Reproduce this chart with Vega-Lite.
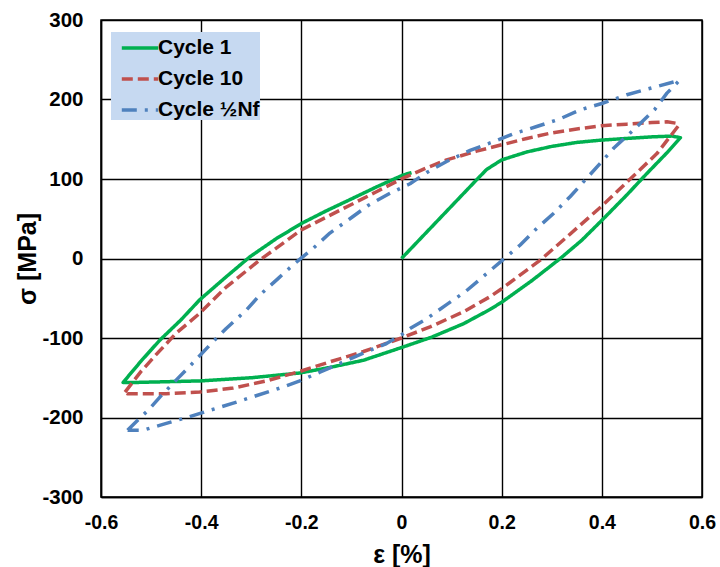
{
  "$schema": "https://vega.github.io/schema/vega-lite/v6.json",
  "width": 601,
  "height": 477,
  "autosize": {"type": "none"},
  "padding": {"left": 101, "top": 20, "right": 18, "bottom": 70},
  "background": "white",
  "config": {
    "font": "Liberation Sans",
    "view": {"stroke": "black", "strokeWidth": 1.5},
    "axis": {
      "grid": true, "gridColor": "black", "gridOpacity": 1, "gridWidth": 1.4,
      "domainColor": "black", "domainWidth": 1.5, "ticks": false, "labelFlush": false,
      "labelFont": "Liberation Sans", "labelFontWeight": "bold", "labelFontSize": 19.5, "labelColor": "black",
      "titleFont": "Liberation Sans", "titleFontWeight": "bold", "titleFontSize": 25, "titleColor": "black"
    },
    "legend": {
      "fillColor": "#C6D9F1", "padding": 0, "symbolType": "M-1.3,0H1.3", "symbolSize": 784,
      "symbolStrokeWidth": 3.5, "labelFont": "Liberation Sans", "labelFontSize": 21, "labelFontWeight": "bold",
      "labelColor": "black", "labelOffset": 2, "rowPadding": 5, "symbolOffset": 13, "labelLimit": 300
    }
  },
  "data": {"values": [
    {"c":"Cycle 1","i":0,"e":0,"s":0},
    {"c":"Cycle 1","i":1,"e":0.05,"s":33},
    {"c":"Cycle 1","i":2,"e":0.1,"s":66},
    {"c":"Cycle 1","i":3,"e":0.15,"s":99},
    {"c":"Cycle 1","i":4,"e":0.17,"s":112},
    {"c":"Cycle 1","i":5,"e":0.2,"s":124},
    {"c":"Cycle 1","i":6,"e":0.25,"s":134},
    {"c":"Cycle 1","i":7,"e":0.3,"s":141},
    {"c":"Cycle 1","i":8,"e":0.35,"s":146},
    {"c":"Cycle 1","i":9,"e":0.4,"s":149},
    {"c":"Cycle 1","i":10,"e":0.45,"s":151},
    {"c":"Cycle 1","i":11,"e":0.5,"s":153},
    {"c":"Cycle 1","i":12,"e":0.54,"s":154},
    {"c":"Cycle 1","i":13,"e":0.557,"s":152},
    {"c":"Cycle 1","i":14,"e":0.53,"s":133},
    {"c":"Cycle 1","i":15,"e":0.49,"s":107},
    {"c":"Cycle 1","i":16,"e":0.45,"s":80},
    {"c":"Cycle 1","i":17,"e":0.4,"s":48},
    {"c":"Cycle 1","i":18,"e":0.36,"s":23},
    {"c":"Cycle 1","i":19,"e":0.317,"s":0},
    {"c":"Cycle 1","i":20,"e":0.26,"s":-28},
    {"c":"Cycle 1","i":21,"e":0.2,"s":-55},
    {"c":"Cycle 1","i":22,"e":0.177,"s":-64},
    {"c":"Cycle 1","i":23,"e":0.124,"s":-82},
    {"c":"Cycle 1","i":24,"e":0.06,"s":-99},
    {"c":"Cycle 1","i":25,"e":0,"s":-112},
    {"c":"Cycle 1","i":26,"e":-0.076,"s":-128},
    {"c":"Cycle 1","i":27,"e":-0.143,"s":-137},
    {"c":"Cycle 1","i":28,"e":-0.203,"s":-144},
    {"c":"Cycle 1","i":29,"e":-0.3,"s":-150},
    {"c":"Cycle 1","i":30,"e":-0.403,"s":-154},
    {"c":"Cycle 1","i":31,"e":-0.47,"s":-155},
    {"c":"Cycle 1","i":32,"e":-0.536,"s":-156},
    {"c":"Cycle 1","i":33,"e":-0.556,"s":-156},
    {"c":"Cycle 1","i":34,"e":-0.52,"s":-129},
    {"c":"Cycle 1","i":35,"e":-0.483,"s":-103},
    {"c":"Cycle 1","i":36,"e":-0.44,"s":-77},
    {"c":"Cycle 1","i":37,"e":-0.403,"s":-52},
    {"c":"Cycle 1","i":38,"e":-0.35,"s":-23},
    {"c":"Cycle 1","i":39,"e":-0.303,"s":2},
    {"c":"Cycle 1","i":40,"e":-0.25,"s":25},
    {"c":"Cycle 1","i":41,"e":-0.2,"s":44},
    {"c":"Cycle 1","i":42,"e":-0.15,"s":60},
    {"c":"Cycle 1","i":43,"e":-0.103,"s":74},
    {"c":"Cycle 1","i":44,"e":-0.05,"s":90},
    {"c":"Cycle 1","i":45,"e":0.003,"s":105},
    {"c":"Cycle 1","i":46,"e":0.02,"s":108},

    {"c":"Cycle 10","i":0,"e":-0.552,"s":-168},
    {"c":"Cycle 10","i":1,"e":-0.52,"s":-142},
    {"c":"Cycle 10","i":2,"e":-0.49,"s":-121},
    {"c":"Cycle 10","i":3,"e":-0.45,"s":-94},
    {"c":"Cycle 10","i":4,"e":-0.403,"s":-69},
    {"c":"Cycle 10","i":5,"e":-0.35,"s":-36},
    {"c":"Cycle 10","i":6,"e":-0.283,"s":-2},
    {"c":"Cycle 10","i":7,"e":-0.25,"s":13},
    {"c":"Cycle 10","i":8,"e":-0.2,"s":36},
    {"c":"Cycle 10","i":9,"e":-0.15,"s":52},
    {"c":"Cycle 10","i":10,"e":-0.103,"s":67},
    {"c":"Cycle 10","i":11,"e":-0.05,"s":84},
    {"c":"Cycle 10","i":12,"e":0.003,"s":101},
    {"c":"Cycle 10","i":13,"e":0.05,"s":114},
    {"c":"Cycle 10","i":14,"e":0.09,"s":124},
    {"c":"Cycle 10","i":15,"e":0.15,"s":135},
    {"c":"Cycle 10","i":16,"e":0.2,"s":143},
    {"c":"Cycle 10","i":17,"e":0.25,"s":151},
    {"c":"Cycle 10","i":18,"e":0.3,"s":158},
    {"c":"Cycle 10","i":19,"e":0.35,"s":163},
    {"c":"Cycle 10","i":20,"e":0.4,"s":167},
    {"c":"Cycle 10","i":21,"e":0.45,"s":169},
    {"c":"Cycle 10","i":22,"e":0.5,"s":171},
    {"c":"Cycle 10","i":23,"e":0.53,"s":172},
    {"c":"Cycle 10","i":24,"e":0.55,"s":170},
    {"c":"Cycle 10","i":25,"e":0.553,"s":167},
    {"c":"Cycle 10","i":26,"e":0.51,"s":132},
    {"c":"Cycle 10","i":27,"e":0.455,"s":99},
    {"c":"Cycle 10","i":28,"e":0.4,"s":66},
    {"c":"Cycle 10","i":29,"e":0.33,"s":27},
    {"c":"Cycle 10","i":30,"e":0.277,"s":-2},
    {"c":"Cycle 10","i":31,"e":0.2,"s":-38},
    {"c":"Cycle 10","i":32,"e":0.177,"s":-48},
    {"c":"Cycle 10","i":33,"e":0.124,"s":-67},
    {"c":"Cycle 10","i":34,"e":0.057,"s":-86},
    {"c":"Cycle 10","i":35,"e":0,"s":-100},
    {"c":"Cycle 10","i":36,"e":-0.076,"s":-117},
    {"c":"Cycle 10","i":37,"e":-0.143,"s":-130},
    {"c":"Cycle 10","i":38,"e":-0.203,"s":-142},
    {"c":"Cycle 10","i":39,"e":-0.27,"s":-154},
    {"c":"Cycle 10","i":40,"e":-0.336,"s":-163},
    {"c":"Cycle 10","i":41,"e":-0.403,"s":-168},
    {"c":"Cycle 10","i":42,"e":-0.47,"s":-170},
    {"c":"Cycle 10","i":43,"e":-0.547,"s":-170},
    {"c":"Cycle 10","i":44,"e":-0.552,"s":-168},

    {"c":"Cycle ½Nf","i":0,"e":-0.547,"s":-216},
    {"c":"Cycle ½Nf","i":1,"e":-0.523,"s":-201},
    {"c":"Cycle ½Nf","i":2,"e":-0.506,"s":-191},
    {"c":"Cycle ½Nf","i":3,"e":-0.482,"s":-174},
    {"c":"Cycle ½Nf","i":4,"e":-0.45,"s":-153},
    {"c":"Cycle ½Nf","i":5,"e":-0.416,"s":-131},
    {"c":"Cycle ½Nf","i":6,"e":-0.383,"s":-109},
    {"c":"Cycle ½Nf","i":7,"e":-0.35,"s":-88},
    {"c":"Cycle ½Nf","i":8,"e":-0.31,"s":-65},
    {"c":"Cycle ½Nf","i":9,"e":-0.283,"s":-46},
    {"c":"Cycle ½Nf","i":10,"e":-0.246,"s":-25},
    {"c":"Cycle ½Nf","i":11,"e":-0.213,"s":-6},
    {"c":"Cycle ½Nf","i":12,"e":-0.176,"s":13},
    {"c":"Cycle ½Nf","i":13,"e":-0.143,"s":32},
    {"c":"Cycle ½Nf","i":14,"e":-0.103,"s":50},
    {"c":"Cycle ½Nf","i":15,"e":-0.066,"s":67},
    {"c":"Cycle ½Nf","i":16,"e":-0.023,"s":82},
    {"c":"Cycle ½Nf","i":17,"e":0.017,"s":94},
    {"c":"Cycle ½Nf","i":18,"e":0.05,"s":108},
    {"c":"Cycle ½Nf","i":19,"e":0.09,"s":122},
    {"c":"Cycle ½Nf","i":20,"e":0.137,"s":136},
    {"c":"Cycle ½Nf","i":21,"e":0.184,"s":147},
    {"c":"Cycle ½Nf","i":22,"e":0.224,"s":157},
    {"c":"Cycle ½Nf","i":23,"e":0.27,"s":166},
    {"c":"Cycle ½Nf","i":24,"e":0.314,"s":175},
    {"c":"Cycle ½Nf","i":25,"e":0.357,"s":187},
    {"c":"Cycle ½Nf","i":26,"e":0.4,"s":195},
    {"c":"Cycle ½Nf","i":27,"e":0.45,"s":206},
    {"c":"Cycle ½Nf","i":28,"e":0.49,"s":213},
    {"c":"Cycle ½Nf","i":29,"e":0.543,"s":222},
    {"c":"Cycle ½Nf","i":30,"e":0.555,"s":224},
    {"c":"Cycle ½Nf","i":31,"e":0.53,"s":208},
    {"c":"Cycle ½Nf","i":32,"e":0.505,"s":187},
    {"c":"Cycle ½Nf","i":33,"e":0.467,"s":164},
    {"c":"Cycle ½Nf","i":34,"e":0.424,"s":139},
    {"c":"Cycle ½Nf","i":35,"e":0.4,"s":122},
    {"c":"Cycle ½Nf","i":36,"e":0.37,"s":101},
    {"c":"Cycle ½Nf","i":37,"e":0.337,"s":78},
    {"c":"Cycle ½Nf","i":38,"e":0.304,"s":57},
    {"c":"Cycle ½Nf","i":39,"e":0.267,"s":36},
    {"c":"Cycle ½Nf","i":40,"e":0.237,"s":17},
    {"c":"Cycle ½Nf","i":41,"e":0.2,"s":-3},
    {"c":"Cycle ½Nf","i":42,"e":0.17,"s":-19},
    {"c":"Cycle ½Nf","i":43,"e":0.127,"s":-42},
    {"c":"Cycle ½Nf","i":44,"e":0.09,"s":-58},
    {"c":"Cycle ½Nf","i":45,"e":0.05,"s":-76},
    {"c":"Cycle ½Nf","i":46,"e":0.017,"s":-88},
    {"c":"Cycle ½Nf","i":47,"e":0,"s":-96},
    {"c":"Cycle ½Nf","i":48,"e":-0.03,"s":-107},
    {"c":"Cycle ½Nf","i":49,"e":-0.076,"s":-119},
    {"c":"Cycle ½Nf","i":50,"e":-0.116,"s":-130},
    {"c":"Cycle ½Nf","i":51,"e":-0.163,"s":-143},
    {"c":"Cycle ½Nf","i":52,"e":-0.203,"s":-154},
    {"c":"Cycle ½Nf","i":53,"e":-0.243,"s":-163},
    {"c":"Cycle ½Nf","i":54,"e":-0.292,"s":-173},
    {"c":"Cycle ½Nf","i":55,"e":-0.336,"s":-182},
    {"c":"Cycle ½Nf","i":56,"e":-0.383,"s":-191},
    {"c":"Cycle ½Nf","i":57,"e":-0.423,"s":-199},
    {"c":"Cycle ½Nf","i":58,"e":-0.473,"s":-208},
    {"c":"Cycle ½Nf","i":59,"e":-0.516,"s":-216},
    {"c":"Cycle ½Nf","i":60,"e":-0.547,"s":-216}
  ]},
  "mark": {"type": "line", "strokeWidth": 3.5, "strokeCap": "butt", "strokeJoin": "round"},
  "encoding": {
    "x": {
      "field": "e", "type": "quantitative",
      "scale": {"domain": [-0.6, 0.6], "nice": false, "zero": false},
      "axis": {
        "values": [-0.6, -0.4, -0.2, 0, 0.2, 0.4, 0.6],
        "labelExpr": "datum.value == 0 ? '0' : toString(round(datum.value * 10) / 10)",
        "title": "ε [%]", "labelPadding": 16, "titleY": 65, "titleBaseline": "alphabetic"
      }
    },
    "y": {
      "field": "s", "type": "quantitative",
      "scale": {"domain": [-300, 300], "nice": false},
      "axis": {
        "values": [-300, -200, -100, 0, 100, 200, 300],
        "labelExpr": "toString(datum.value)", "labelFontSize": 20.5,
        "title": "σ [MPa]", "labelPadding": 18, "titleX": -66, "titleY": 238.5, "titleBaseline": "alphabetic"
      }
    },
    "color": {
      "field": "c", "type": "nominal",
      "scale": {"domain": ["Cycle 1", "Cycle 10", "Cycle ½Nf"], "range": ["#00B050", "#C0504D", "#4F81BD"]},
      "legend": {"title": null, "orient": "none", "legendX": 10, "legendY": 12}
    },
    "strokeDash": {
      "field": "c", "type": "nominal",
      "scale": {"domain": ["Cycle 1", "Cycle 10", "Cycle ½Nf"], "range": [[1, 0], [11, 5], [15, 8, 3, 8]]},
      "legend": {"title": null, "orient": "none", "legendX": 10, "legendY": 12}
    },
    "order": {"field": "i", "type": "quantitative"}
  }
}
